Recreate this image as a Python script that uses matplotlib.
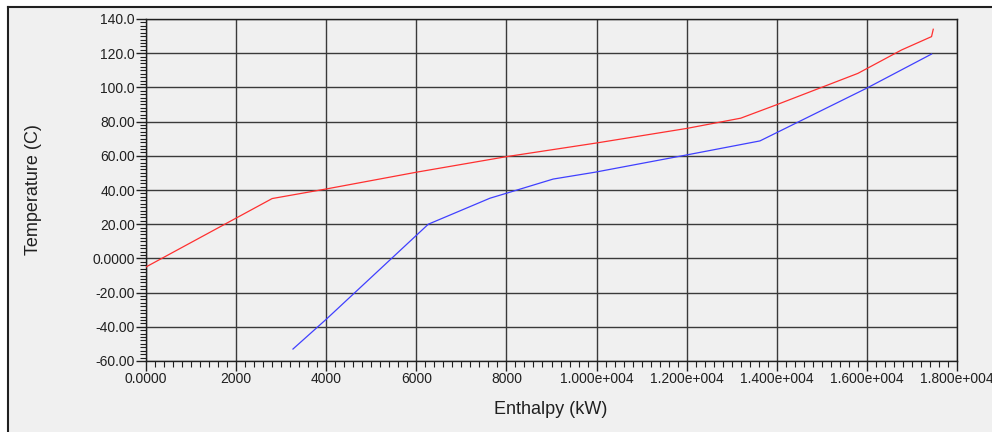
import matplotlib
matplotlib.use("Agg")
import matplotlib.pyplot as plt
from matplotlib.ticker import MultipleLocator, FixedLocator, FixedFormatter
from matplotlib.lines import Line2D
from matplotlib.patches import Rectangle

plt.rcParams['font.family'] = ['Liberation Sans', 'DejaVu Sans']

# Hot composite curve (red)
hot_h = [0, 2800, 4000, 6000, 8000, 10000, 12000, 13200, 14000, 15800, 16770, 17435, 17473]
hot_t = [-5.0, 35.0, 40.6, 50.4, 59.5, 67.5, 76.0, 82.0, 89.9, 108.2, 121.9, 129.7, 134.0]

# Cold composite curve (blue)
cold_h = [3262, 4000, 6266, 7634, 8000, 9037, 9964, 12000, 13626, 16000, 17435]
cold_t = [-53.0, -35.6, 20.0, 35.2, 38.1, 46.4, 50.4, 60.5, 68.7, 99.6, 119.5]

x_ticks = [0, 2000, 4000, 6000, 8000, 10000, 12000, 14000, 16000, 18000]
x_labels = ['0.0000', '2000', '4000', '6000', '8000', '1.000e+004', '1.200e+004',
            '1.400e+004', '1.600e+004', '1.800e+004']
y_ticks = [-60, -40, -20, 0, 20, 40, 60, 80, 100, 120, 140]
y_labels = ['-60.00', '-40.00', '-20.00', '0.0000', '20.00', '40.00', '60.00',
            '80.00', '100.0', '120.0', '140.0']

bg = '#f0f0f0'
fig = plt.figure(figsize=(9.92, 4.32), dpi=100, facecolor=bg)
# white strips outside the panel frame (left and top)
fig.patches.append(Rectangle((0, 0), 8/992, 1, transform=fig.transFigure,
                             facecolor='white', edgecolor='none', zorder=-10))
fig.patches.append(Rectangle((0, 1 - 7/432), 1, 7/432, transform=fig.transFigure,
                             facecolor='white', edgecolor='none', zorder=-10))
fig.lines.append(Line2D([8/992, 8/992], [0, 1 - 7/432], transform=fig.transFigure,
                        color='#202020', lw=1.5, zorder=-5))
fig.lines.append(Line2D([8/992, 1], [1 - 7/432, 1 - 7/432], transform=fig.transFigure,
                        color='#202020', lw=1.5, zorder=-5))

ax = fig.add_axes([146/992, 1 - 361/432, (957 - 146)/992, (361 - 19)/432])
ax.set_facecolor(bg)
ax.plot(hot_h, hot_t, color='#ff3030', lw=0.9, zorder=3)
ax.plot(cold_h, cold_t, color='#4040ff', lw=0.9, zorder=3)

ax.set_xlim(0, 18000)
ax.set_ylim(-60, 140)
ax.xaxis.set_major_locator(FixedLocator(x_ticks))
ax.xaxis.set_major_formatter(FixedFormatter(x_labels))
ax.yaxis.set_major_locator(FixedLocator(y_ticks))
ax.yaxis.set_major_formatter(FixedFormatter(y_labels))
ax.xaxis.set_minor_locator(MultipleLocator(200))
ax.yaxis.set_minor_locator(MultipleLocator(2))

ax.grid(True, which='major', color='#3a3a3a', lw=1.0, zorder=1)
for s in ax.spines.values():
    s.set_color('#202020')
    s.set_linewidth(1.0)

ax.tick_params(axis='both', which='major', direction='out', length=7, width=1,
               color='#202020', labelsize=10, labelcolor='#202020')
ax.tick_params(axis='both', which='minor', direction='out', length=4, width=0.8,
               color='#202020')
ax.tick_params(axis='x', which='major', pad=1)
ax.tick_params(axis='y', which='major', pad=1)

fig.text(33/992, 1 - 190/432, 'Temperature (C)', rotation=90, ha='center', va='center',
         fontsize=13, color='#202020')
fig.text(551/992, 1 - 410/432, 'Enthalpy (kW)', ha='center', va='center',
         fontsize=13, color='#202020')

fig.savefig('out.png', dpi=100, facecolor=bg)
